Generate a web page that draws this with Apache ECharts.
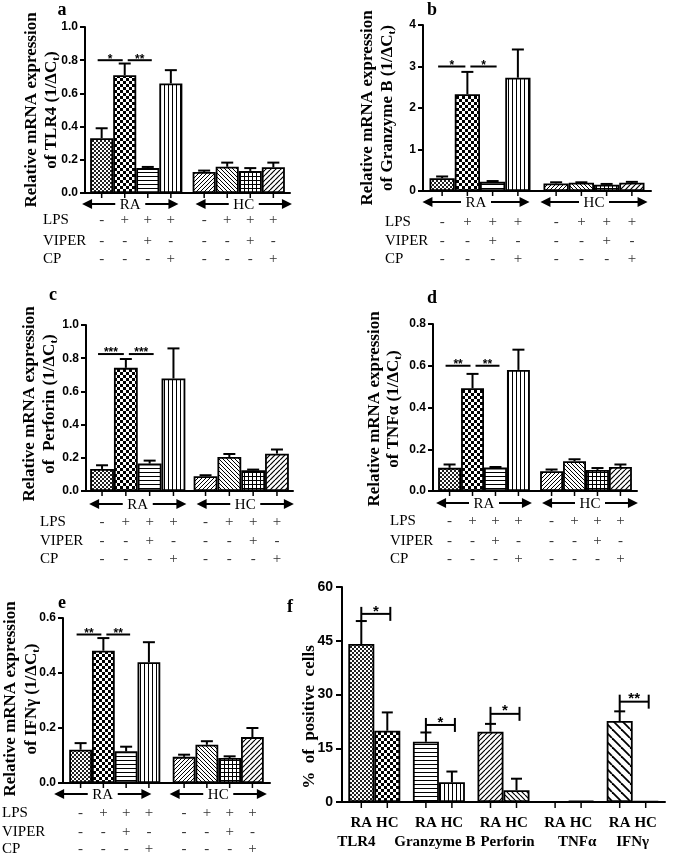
<!DOCTYPE html>
<html><head><meta charset="utf-8">
<script src="https://cdn.jsdelivr.net/npm/echarts@6/dist/echarts.min.js"></script>
<style>html,body{margin:0;padding:0;background:#fff}#c{width:675px;height:857px}</style>
</head><body><div id="c"></div>
<script>
// ---------------- data ----------------
const groups = ['RA', 'HC'];
const treatments = ['Control', 'LPS', 'LPS+VIPER', 'LPS+CP'];
const rowLabels = ['LPS', 'VIPER', 'CP'];
const lpsSigns   = ['-', '+', '+', '+', '-', '+', '+', '+'];
const viperSigns = ['-', '-', '+', '-', '-', '-', '+', '-'];
const cpSigns    = ['-', '-', '-', '+', '-', '-', '-', '+'];

// bar order: RA ctrl, RA LPS, RA LPS+VIPER, RA LPS+CP, HC ctrl, HC LPS, HC LPS+VIPER, HC LPS+CP
const tlr4Mean = [0.33, 0.71, 0.15, 0.66, 0.127, 0.158, 0.133, 0.155];
const tlr4Sem  = [0.06, 0.07, 0.007, 0.08, 0.008, 0.025, 0.017, 0.028];
const tlr4Sig  = [[0, 1, 0.8, '*'], [1, 2, 0.8, '**']];

const gzmbMean = [0.31, 2.33, 0.22, 2.73, 0.18, 0.20, 0.15, 0.20];
const gzmbSem  = [0.04, 0.54, 0.02, 0.68, 0.03, 0.01, 0.02, 0.02];
const gzmbSig  = [[0, 1, 3.0, '*'], [1, 2, 3.0, '*']];

const prfMean = [0.133, 0.742, 0.165, 0.678, 0.089, 0.205, 0.125, 0.225];
const prfSem  = [0.022, 0.053, 0.018, 0.181, 0.006, 0.018, 0.004, 0.025];
const prfSig  = [[0, 1, 0.825, '***'], [1, 2, 0.825, '***']];

const tnfMean = [0.111, 0.492, 0.112, 0.58, 0.095, 0.143, 0.101, 0.115];
const tnfSem  = [0.016, 0.069, 0.003, 0.097, 0.008, 0.009, 0.009, 0.012];
const tnfSig  = [[0, 1, 0.6, '**'], [1, 2, 0.6, '**']];

const ifngMean = [0.121, 0.481, 0.115, 0.439, 0.095, 0.139, 0.091, 0.167];
const ifngSem  = [0.024, 0.046, 0.017, 0.073, 0.008, 0.013, 0.006, 0.033];
const ifngSig  = [[0, 1, 0.54, '**'], [1, 2, 0.54, '**']];

// panel f : % of positive cells
const markers  = ['TLR4', 'Granzyme B', 'Perforin', 'TNFα', 'IFNγ'];
const posRA    = [44.1, 16.8, 19.6, 0.1, 22.6];
const posRASem = [6.4, 2.6, 2.2, 0, 2.7];
const posHC    = [19.9, 5.5, 3.3, 0.3, 0.2];
const posHCSem = [5.1, 3.0, 3.2, 0, 0];
const posSig   = [[0, 52.5, '*'], [1, 21.5, '*'], [2, 24.6, '*'], [4, 28, '**']];

// ---------------- styling helpers ----------------
const SERIF = '"Liberation Serif","Times New Roman",serif';
const SANS = '"Liberation Sans",Arial,sans-serif';

function makePattern(type) {
  const c = document.createElement('canvas');
  const sizes = {fineCheck: 4, check: 6, hline: 4, vline: 4, diagR: 4, diagL: 4, grid: 4, diagR2: 5, diagRf: 5, diagLf: 5, diagLcoarse: 9, plain: 4};
  const s = sizes[type] || 4;
  c.width = s; c.height = s;
  const g = c.getContext('2d');
  g.fillStyle = '#fff'; g.fillRect(0, 0, s, s);
  g.fillStyle = '#000'; g.strokeStyle = '#000';
  const diag = (dir, lw) => {
    g.lineWidth = lw;
    for (let o = -s; o <= s; o += s) {
      g.beginPath();
      if (dir > 0) { g.moveTo(o, s); g.lineTo(o + s, 0); }
      else { g.moveTo(o, 0); g.lineTo(o + s, s); }
      g.stroke();
    }
  };
  switch (type) {
    case 'fineCheck': g.fillStyle = '#222'; g.fillRect(0, 0, 2, 2); g.fillRect(2, 2, 2, 2); break;
    case 'check': g.fillRect(0, 0, 3, 3); g.fillRect(3, 3, 3, 3); break;
    case 'hline': g.fillRect(0, 0, s, 1); break;
    case 'vline': g.fillRect(0, 0, 1, s); break;
    case 'grid': g.fillRect(0, 0, s, 1); g.fillRect(0, 0, 1, s); break;
    case 'diagR': diag(1, 1); break;
    case 'diagL': diag(-1, 1); break;
    case 'diagR2': diag(1, 1.2); break;
    case 'diagRf': diag(1, 1.2); break;
    case 'diagLf': diag(-1, 1.2); break;
    case 'diagLcoarse': diag(-1, 1.8); break;
    default: break;
  }
  return {image: c, repeat: 'repeat'};
}

const raPatterns = ['fineCheck', 'check', 'hline', 'vline'];
const hcPatterns = ['diagR', 'diagL', 'grid', 'diagR2'];
const fRAPatterns = ['fineCheck', 'hline', 'diagRf', 'plain', 'diagLcoarse'];
const fHCPatterns = ['check', 'vline', 'diagLf', 'plain', 'plain'];

// ---------------- layout ----------------
const panels = [
  {letter: 'a', mean: tlr4Mean, sem: tlr4Sem, sig: tlr4Sig, max: 1.0, interval: 0.2, dec: 1,
   grid: {left: 85, top: 27, width: 205, height: 166}, gap: 0.10,
   title: ['Relative mRNA expression', 'of TLR4 (1/ΔC{s|t})'], titleX: [32, 52], titleY: 110,
   letterPos: [62, 10], rowX: 43, arrowOff: 11, rowOffs: [27, 48, 66], arrShift: [-6, 5]},
  {letter: 'b', mean: gzmbMean, sem: gzmbSem, sig: gzmbSig, max: 4, interval: 1, dec: 0,
   grid: {left: 423, top: 25, width: 228, height: 166}, gap: 0.114,
   title: ['Relative mRNA expression', 'of Granzyme B (1/ΔC{s|t})'], titleX: [368, 388], titleY: 108,
   letterPos: [432, 10], rowX: 385, arrowOff: 11, rowOffs: [31, 50, 68], arrShift: [-4, 0]},
  {letter: 'c', mean: prfMean, sem: prfSem, sig: prfSig, max: 1.0, interval: 0.2, dec: 1,
   grid: {left: 86, top: 325, width: 207, height: 166}, gap: 0.08,
   title: ['Relative mRNA expression', 'of  Perforin (1/ΔC{s|t})'], titleX: [30, 50], titleY: 404,
   letterPos: [53, 295], rowX: 40, arrowOff: 13, rowOffs: [31, 50, 68], arrShift: [0, 4]},
  {letter: 'd', mean: tnfMean, sem: tnfSem, sig: tnfSig, max: 0.8, interval: 0.2, dec: 1,
   grid: {left: 433, top: 324, width: 204, height: 167}, gap: 0.10,
   title: ['Relative mRNA expression', 'of TNFα (1/ΔC{s|t})'], titleX: [375, 394], titleY: 409,
   letterPos: [432, 298], rowX: 390, arrowOff: 12, rowOffs: [30, 50, 68], arrShift: [0, 4]},
  {letter: 'e', mean: ifngMean, sem: ifngSem, sig: ifngSig, max: 0.6, interval: 0.2, dec: 1,
   grid: {left: 63, top: 618, width: 207, height: 165}, gap: 0.12,
   title: ['Relative mRNA expression', 'of IFNγ (1/ΔC{s|t})'], titleX: [11, 32], titleY: 699,
   letterPos: [62, 603], rowX: 2, arrowOff: 11, rowOffs: [30, 49, 66], arrShift: [-12, 0]}
];
const fLayout = {grid: {left: 342, top: 587, width: 323, height: 215}, gap: 0.195, max: 60, interval: 15,
  titleX: 310, titleY: 717, letterPos: [290, 607], rowOffs: [21, 40], nameShift: [-18, -4, 4, 9, 0]};

// ---------------- render functions ----------------
function barCenter(api, cat, k, nSer, gapFrac) {
  const band = api.size([1, 0])[0];
  const bw = band * (1 - gapFrac) / nSer;
  const p = api.coord([cat, 0]);
  return {x: p[0] + (k - (nSer - 1) / 2) * bw, y0: p[1], bw: bw, band: band, cx: p[0]};
}

function errorRender(nSer, gapFrac, capW) {
  return function (params, api) {
    const cat = api.value(0), m = api.value(1), s = api.value(2), k = api.value(3);
    if (!(s > 0)) return null;
    const b = barCenter(api, cat, k, nSer, gapFrac);
    const yM = api.coord([cat, m])[1];
    const yT = api.coord([cat, m + s])[1];
    return {type: 'group', children: [
      {type: 'line', shape: {x1: b.x, y1: yM, x2: b.x, y2: yT}, style: {stroke: '#000', lineWidth: 2}},
      {type: 'line', shape: {x1: b.x - capW / 2, y1: yT, x2: b.x + capW / 2, y2: yT}, style: {stroke: '#000', lineWidth: 2}}
    ]};
  };
}

function sigRenderAE(gapFrac, sigArr) {
  return function (params, api) {
    const s = sigArr[params.dataIndex];
    const from = barCenter(api, Math.floor(s[0] / 4), s[0] % 4, 4, gapFrac);
    const to = barCenter(api, Math.floor(s[1] / 4), s[1] % 4, 4, gapFrac);
    const y = api.coord([0, s[2]])[1];
    const first = params.dataIndex === 0;
    const x1 = from.x + (first ? -4 : 3), x2 = to.x + (first ? -2 : 4);
    return {type: 'group', children: [
      {type: 'line', shape: {x1: x1, y1: y, x2: x2, y2: y}, style: {stroke: '#000', lineWidth: 2}},
      {type: 'text', x: (x1 + x2) / 2, y: y + 5, style: {text: s[3], font: 'bold 12px ' + SANS, fill: '#000', align: 'center', verticalAlign: 'bottom'}}
    ]};
  };
}

function tableRender(gapFrac, offs) {
  const rows = [lpsSigns, viperSigns, cpSigns];
  return function (params, api) {
    const idx = params.dataIndex;
    const b = barCenter(api, Math.floor(idx / 4), idx % 4, 4, gapFrac);
    const ch = [{type: 'line', shape: {x1: b.x, y1: b.y0, x2: b.x, y2: b.y0 + 5}, style: {stroke: '#000', lineWidth: 1.5}}];
    rows.forEach(function (r, i) {
      ch.push({type: 'text', x: b.x, y: b.y0 + offs[i], style: {text: r[idx], font: '15px ' + SERIF, fill: '#333', align: 'center', verticalAlign: 'middle'}});
    });
    return {type: 'group', children: ch};
  };
}

function arrowRender(off, shifts) {
  return function (params, api) {
    const cat = params.dataIndex;
    const band = api.size([1, 0])[0];
    const c = api.coord([cat, 0]);
    const cx = c[0] + shifts[cat];
    const y = c[1] + off;
    const half = band * 0.47;
    const xL = cx - half, xR = cx + half;
    const tw = 15, head = 10, hh = 5;
    return {type: 'group', children: [
      {type: 'line', shape: {x1: xL + head - 1, y1: y, x2: cx - tw, y2: y}, style: {stroke: '#000', lineWidth: 2}},
      {type: 'line', shape: {x1: cx + tw, y1: y, x2: xR - head + 1, y2: y}, style: {stroke: '#000', lineWidth: 2}},
      {type: 'polygon', shape: {points: [[xL, y], [xL + head, y - hh], [xL + head, y + hh]]}, style: {fill: '#000'}},
      {type: 'polygon', shape: {points: [[xR, y], [xR - head, y - hh], [xR - head, y + hh]]}, style: {fill: '#000'}},
      {type: 'text', x: cx, y: y + 1, style: {text: groups[cat], font: '15px ' + SERIF, fill: '#000', align: 'center', verticalAlign: 'middle'}}
    ]};
  };
}

function fLabelRender(gapFrac, offs, nameShift) {
  return function (params, api) {
    const idx = params.dataIndex;
    const cat = Math.floor(idx / 2), k = idx % 2;
    const b = barCenter(api, cat, k, 2, gapFrac);
    const ch = [
      {type: 'line', shape: {x1: b.x, y1: b.y0, x2: b.x, y2: b.y0 + 6}, style: {stroke: '#000', lineWidth: 1.5}},
      {type: 'text', x: b.x, y: b.y0 + offs[0], style: {text: groups[k], font: 'bold 15px ' + SERIF, fill: '#000', align: 'center', verticalAlign: 'middle'}}
    ];
    if (k === 0) {
      ch.push({type: 'text', x: b.cx + nameShift[cat], y: b.y0 + offs[1], style: {text: markers[cat], font: 'bold 15px ' + SERIF, fill: '#000', align: 'center', verticalAlign: 'middle'}});
    }
    return {type: 'group', children: ch};
  };
}

function fSigRender(gapFrac) {
  return function (params, api) {
    const s = posSig[params.dataIndex];
    const cat = s[0];
    const ra = barCenter(api, cat, 0, 2, gapFrac);
    const hc = barCenter(api, cat, 1, 2, gapFrac);
    const y = api.coord([cat, s[1]])[1];
    const errTop = api.coord([cat, posRA[cat] + posRASem[cat]])[1];
    const xL = ra.x, xR = hc.x + 3;
    return {type: 'group', children: [
      {type: 'line', shape: {x1: xL, y1: y, x2: xR, y2: y}, style: {stroke: '#000', lineWidth: 2}},
      {type: 'line', shape: {x1: xR, y1: y - 7, x2: xR, y2: y + 7}, style: {stroke: '#000', lineWidth: 2}},
      {type: 'line', shape: {x1: xL, y1: y - 7, x2: xL, y2: errTop}, style: {stroke: '#000', lineWidth: 2}},
      {type: 'text', x: (xL + xR) / 2, y: y + 5, style: {text: s[2], font: 'bold 15px ' + SANS, fill: '#000', align: 'center', verticalAlign: 'bottom'}}
    ]};
  };
}

// ---------------- build option ----------------
const grids = [], xAxes = [], yAxes = [], series = [], graphics = [];
const subRich = {s: {font: 'bold 11px ' + SERIF, fill: '#000', padding: [9, 0, 0, 0]}};

function addAxes(idx, grid, cats, max, interval, dec, labelSize, margin, tickLen) {
  grids.push(Object.assign({containLabel: false}, grid));
  xAxes.push({gridIndex: idx, type: 'category', data: cats,
    axisLine: {lineStyle: {color: '#000', width: 2}}, axisTick: {show: false}, axisLabel: {show: false}, splitLine: {show: false}});
  yAxes.push({gridIndex: idx, type: 'value', min: 0, max: max, interval: interval,
    axisLine: {show: true, lineStyle: {color: '#000', width: 2}},
    axisTick: {show: true, length: tickLen, lineStyle: {color: '#000', width: 2}},
    axisLabel: {color: '#000', fontFamily: SANS, fontWeight: 'bold', fontSize: labelSize, margin: margin,
      formatter: function (v) { return v.toFixed(dec); }},
    splitLine: {show: false}});
}

panels.forEach(function (p, i) {
  addAxes(i, p.grid, groups, p.max, p.interval, p.dec, 12, 7, 5);
  treatments.forEach(function (t, k) {
    series.push({type: 'bar', name: t, xAxisIndex: i, yAxisIndex: i, barGap: '0%', barCategoryGap: (p.gap * 100) + '%',
      data: [
        {value: p.mean[k], itemStyle: {color: makePattern(raPatterns[k])}},
        {value: p.mean[4 + k], itemStyle: {color: makePattern(hcPatterns[k])}}
      ],
      itemStyle: {borderColor: '#000', borderWidth: 1.8}, silent: true});
  });
  series.push({type: 'custom', xAxisIndex: i, yAxisIndex: i, silent: true, z: 5,
    data: p.mean.map(function (m, b) { return [Math.floor(b / 4), m, p.sem[b], b % 4]; }),
    renderItem: errorRender(4, p.gap, 12)});
  series.push({type: 'custom', xAxisIndex: i, yAxisIndex: i, silent: true, z: 5,
    data: p.sig.map(function (s) { return [0, s[2]]; }), renderItem: sigRenderAE(p.gap, p.sig)});
  series.push({type: 'custom', xAxisIndex: i, yAxisIndex: i, silent: true, z: 5,
    data: lpsSigns.map(function (_, b) { return [Math.floor(b / 4), 0]; }), renderItem: tableRender(p.gap, p.rowOffs)});
  series.push({type: 'custom', xAxisIndex: i, yAxisIndex: i, silent: true, z: 5,
    data: groups.map(function (_, c) { return [c, 0]; }), renderItem: arrowRender(p.arrowOff, p.arrShift)});

  graphics.push({type: 'text', x: p.letterPos[0], y: p.letterPos[1], style: {text: p.letter, font: 'bold 18px ' + SERIF, fill: '#000', align: 'center', verticalAlign: 'middle'}});
  p.title.forEach(function (t, j) {
    graphics.push({type: 'text', x: p.titleX[j], y: p.titleY, rotation: Math.PI / 2,
      style: {text: t, rich: subRich, font: 'bold 17px ' + SERIF, fill: '#000', align: 'center', verticalAlign: 'middle'}});
  });
  const axisY = p.grid.top + p.grid.height;
  rowLabels.forEach(function (r, j) {
    graphics.push({type: 'text', x: p.rowX, y: axisY + p.rowOffs[j], style: {text: r, font: '15px ' + SERIF, fill: '#000', align: 'left', verticalAlign: 'middle'}});
  });
});

// panel f
const fi = panels.length;
addAxes(fi, fLayout.grid, markers, fLayout.max, fLayout.interval, 0, 14, 9, 6);
series.push({type: 'bar', name: 'RA', xAxisIndex: fi, yAxisIndex: fi, barGap: '0%', barCategoryGap: (fLayout.gap * 100) + '%',
  data: posRA.map(function (v, c) { return {value: v, itemStyle: {color: makePattern(fRAPatterns[c])}}; }),
  itemStyle: {borderColor: '#000', borderWidth: 1.8}, silent: true});
series.push({type: 'bar', name: 'HC', xAxisIndex: fi, yAxisIndex: fi, barGap: '0%', barCategoryGap: (fLayout.gap * 100) + '%',
  data: posHC.map(function (v, c) { return {value: v, itemStyle: {color: makePattern(fHCPatterns[c])}}; }),
  itemStyle: {borderColor: '#000', borderWidth: 1.8}, silent: true});
const fErr = [];
markers.forEach(function (_, c) {
  fErr.push([c, posRA[c], posRASem[c], 0]);
  fErr.push([c, posHC[c], posHCSem[c], 1]);
});
series.push({type: 'custom', xAxisIndex: fi, yAxisIndex: fi, silent: true, z: 5, data: fErr, renderItem: errorRender(2, fLayout.gap, 11)});
series.push({type: 'custom', xAxisIndex: fi, yAxisIndex: fi, silent: true, z: 5,
  data: posSig.map(function (s) { return [s[0], s[1]]; }), renderItem: fSigRender(fLayout.gap)});
series.push({type: 'custom', xAxisIndex: fi, yAxisIndex: fi, silent: true, z: 5,
  data: fErr.map(function (e) { return [e[0], 0]; }), renderItem: fLabelRender(fLayout.gap, fLayout.rowOffs, fLayout.nameShift)});
graphics.push({type: 'text', x: fLayout.letterPos[0], y: fLayout.letterPos[1], style: {text: 'f', font: 'bold 18px ' + SERIF, fill: '#000', align: 'center', verticalAlign: 'middle'}});
graphics.push({type: 'text', x: fLayout.titleX, y: fLayout.titleY, rotation: Math.PI / 2,
  style: {text: '%  of  positive  cells', font: 'bold 17px ' + SERIF, fill: '#000', align: 'center', verticalAlign: 'middle'}});

const chart = echarts.init(document.getElementById('c'), null, {renderer: 'canvas'});
chart.setOption({
  animation: false,
  backgroundColor: '#fff',
  grid: grids, xAxis: xAxes, yAxis: yAxes, series: series, graphic: graphics
});
</script>
</body></html>
